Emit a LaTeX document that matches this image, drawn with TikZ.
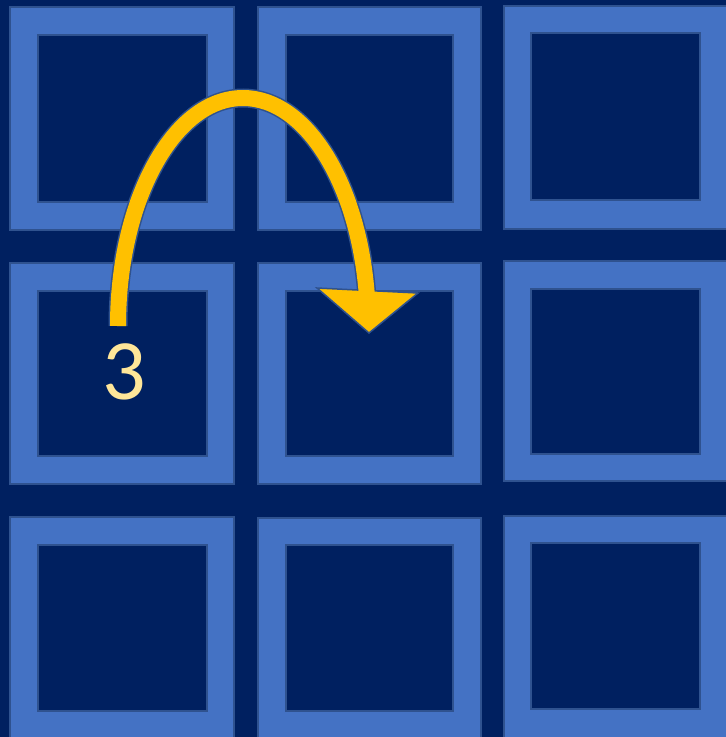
\documentclass[tikz,border=0pt]{standalone}
\usepackage{fontspec}
\newfontfamily\numfont{Carlito}
\definecolor{bg}{HTML}{002060}
\definecolor{frameblue}{HTML}{4472C4}
\definecolor{edgeblue}{HTML}{2F528F}
\definecolor{arrowyellow}{HTML}{FFC000}
\definecolor{numyellow}{HTML}{FFE699}
\begin{document}
\begin{tikzpicture}[x=1pt,y=-1pt,
  outerbox/.style={draw=edgeblue, line width=1.5pt, fill=frameblue, anchor=north west, inner sep=0pt, outer sep=0pt},
  innerbox/.style={draw=edgeblue, line width=1.5pt, fill=bg, anchor=north west, inner sep=0pt, outer sep=0pt},
  shaftedge/.style={draw=edgeblue, line width=19pt, line cap=butt},
  shaftfill/.style={draw=arrowyellow, line width=16pt, line cap=butt},
  headstyle/.style={fill=arrowyellow, draw=edgeblue, line width=1.5pt, line join=miter},
  numstyle/.style={text=numyellow, font=\numfont\fontsize{86}{86}\selectfont, inner sep=0pt}
]
\fill[bg] (0,0) rectangle (726,737);
\useasboundingbox (0,0) rectangle (726,737);
% row 1
\node[outerbox, minimum width=224pt, minimum height=223pt] (o11) at (10,7) {};
\node[innerbox, minimum width=169pt, minimum height=167pt] (i11) at (38,35) {};
\node[outerbox, minimum width=223pt, minimum height=223pt] (o12) at (258,7) {};
\node[innerbox, minimum width=167pt, minimum height=167pt] (i12) at (286,35) {};
\node[outerbox, minimum width=223pt, minimum height=223pt] (o13) at (504,6) {};
\node[innerbox, minimum width=169pt, minimum height=167pt] (i13) at (531,33) {};
% row 2
\node[outerbox, minimum width=224pt, minimum height=221pt] (o21) at (10,263) {};
\node[innerbox, minimum width=169pt, minimum height=165pt] (i21) at (38,291) {};
\node[outerbox, minimum width=223pt, minimum height=221pt] (o22) at (258,263) {};
\node[innerbox, minimum width=167pt, minimum height=165pt] (i22) at (286,291) {};
\node[outerbox, minimum width=223pt, minimum height=220pt] (o23) at (504,261) {};
\node[innerbox, minimum width=169pt, minimum height=165pt] (i23) at (531,289) {};
% row 3
\node[outerbox, minimum width=224pt, minimum height=223pt] (o31) at (10,517) {};
\node[innerbox, minimum width=169pt, minimum height=166pt] (i31) at (38,545) {};
\node[outerbox, minimum width=223pt, minimum height=223pt] (o32) at (258,518) {};
\node[innerbox, minimum width=167pt, minimum height=166pt] (i32) at (286,545) {};
\node[outerbox, minimum width=223pt, minimum height=223pt] (o33) at (504,516) {};
\node[innerbox, minimum width=169pt, minimum height=166pt] (i33) at (531,543) {};
% arrow
\coordinate (arrstart) at (118,326);
\coordinate (hl) at (317,288);
\coordinate (hr) at (418,293);
\coordinate (ht) at (369,333);
\draw[shaftedge] (arrstart) arc[start angle=180, end angle=8.5, x radius=125pt, y radius=228pt];
\filldraw[headstyle] (hl) -- (ht) -- (hr) -- cycle;
\draw[shaftfill] (arrstart) arc[start angle=180, end angle=7.5, x radius=125pt, y radius=228pt];
% label
\node[numstyle] (num) at (124,372) {3};
\end{tikzpicture}
\end{document}
